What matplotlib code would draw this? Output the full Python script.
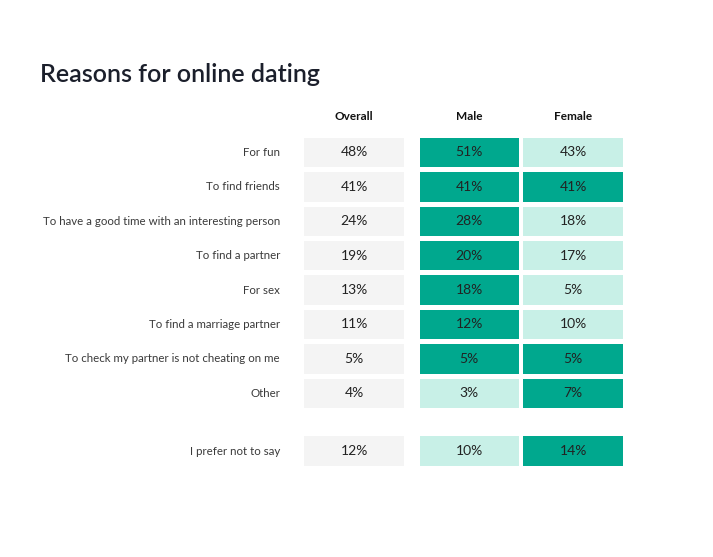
import numpy as np
import matplotlib.pyplot as plt

plt.rcParams['font.family'] = ['Lato', 'DejaVu Sans']

reasons = ["For fun", "To find friends", "To have a good time with an interesting person",
           "To find a partner", "For sex", "To find a marriage partner",
           "To check my partner is not cheating on me", "Other", "I prefer not to say"]
overall = [48, 41, 24, 19, 13, 11, 5, 4, 12]
male = [51, 41, 28, 20, 18, 12, 5, 3, 10]
female = [43, 41, 18, 17, 5, 10, 5, 7, 14]
columns = ["Overall", "Male", "Female"]

GREY = "#f4f4f4"
DARK = "#00a88e"
LIGHT = "#c8f0e7"

fig = plt.figure(figsize=(7.13, 5.57), dpi=100)
ax = fig.add_axes([0, 0, 1, 1])
ax.set_xlim(0, 713)
ax.set_ylim(557, 0)
ax.axis("off")

# row centres: 34.4 px pitch, extra gap before the last row
pitch = 34.4
ypos = np.arange(len(reasons)) * pitch + 152.5
ypos[-1] += 0.68 * pitch

male_col = [DARK if m >= f else LIGHT for m, f in zip(male, female)]
female_col = [DARK if f >= m else LIGHT for m, f in zip(male, female)]

lefts = [304.3, 419.8, 523.3]
widths = [99.5, 98.8, 99.7]
series = [overall, male, female]
colours = [[GREY] * len(overall), male_col, female_col]

for left, w, vals, cols, name in zip(lefts, widths, series, colours, columns):
    ax.barh(ypos, w, left=left, height=29.4, color=cols, edgecolor="none")
    for y, v in zip(ypos, vals):
        ax.text(left + w / 2, y, f"{v}%", ha="center", va="center",
                fontsize=10, color="#222222")
    ax.text(left + w / 2, 116, name, ha="center", va="center",
            fontsize=8.5, fontweight="bold", color="#111111")

for y, r in zip(ypos, reasons):
    ax.text(280, y, r, ha="right", va="center", fontsize=8.3,
            color="#3a3a3a")

ax.text(40, 75, "Reasons for online dating", ha="left", va="center",
        fontsize=18, color="#1b1f2b", fontweight="semibold")

fig.savefig("out.png", dpi=100)
